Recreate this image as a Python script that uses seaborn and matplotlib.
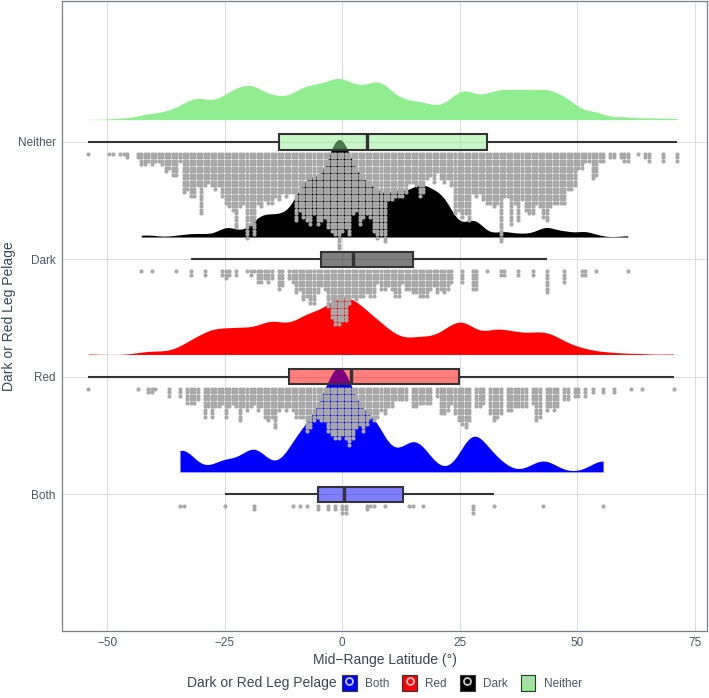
import numpy as np
import pandas as pd
import matplotlib
matplotlib.use("Agg")
import matplotlib.pyplot as plt
import matplotlib.colors as mcolors
import seaborn as sns
from seaborn._statistics import KDE
from matplotlib.patches import Patch
from matplotlib.lines import Line2D
from matplotlib.legend_handler import HandlerTuple

# ---------------- data ----------------
groups = ["Neither", "Dark", "Red", "Both"]          # top to bottom
legend_order = ["Both", "Red", "Dark", "Neither"]
BIN = 0.75

# Neither: dot-stack counts per 0.75 bin starting at -54
neither_start = -54.0
neither_counts = [
    1, 0, 0, 0, 0, 0, 1, 1, 0, 1,
    1, 2, 0, 0, 2, 4, 4, 3, 4, 3,
    3, 4, 6, 5, 7, 7, 3, 12, 11, 13,
    13, 10, 18, 10, 9, 10, 11, 10, 13, 15,
    16, 17, 22, 16, 15, 25, 21, 24, 15, 16,
    14, 15, 15, 13, 14, 12, 13, 12, 12, 20,
    17, 19, 20, 21, 18, 21, 20, 19, 22, 23,
    24, 28, 23, 22, 24, 18, 17, 21, 19, 18,
    19, 23, 25, 24, 26, 14, 14, 13, 13, 13,
    12, 9, 9, 10, 13, 12, 8, 7, 9, 6,
    8, 9, 8, 10, 18, 17, 19, 18, 20, 12,
    13, 12, 14, 15, 15, 16, 15, 26, 13, 13,
    21, 15, 20, 14, 17, 18, 18, 15, 16, 19,
    20, 16, 15, 15, 15, 15, 11, 11, 10, 5,
    5, 3, 3, 8, 7, 3, 3, 0, 2, 2,
    0, 2, 3, 3, 0, 0, 1, 0, 2, 3,
    0, 0, 0, 3, 0, 0, 0, 3,
]

dark_bins = [
    (-42.75, 1), (-40.5, 1), (-35.25, 1), (-32.25, 2), (-29.25, 2), (-25.5, 2),
    (-24.75, 3), (-24.0, 2), (-22.5, 2), (-20.25, 1), (-19.5, 2), (-18.75, 1),
    (-18.0, 4), (-17.25, 4), (-16.5, 3), (-15.75, 4), (-15.0, 3), (-13.5, 6),
    (-12.75, 5), (-11.25, 3), (-10.5, 4), (-9.75, 7), (-9.0, 6), (-8.25, 9),
    (-7.5, 8), (-6.75, 10), (-6.0, 10), (-5.25, 7), (-4.5, 5), (-3.75, 6),
    (-3.0, 11), (-2.25, 14), (-1.5, 16), (-0.75, 16), (0.0, 15), (0.75, 15),
    (1.5, 10), (2.25, 8), (3.0, 9), (3.75, 8), (4.5, 8), (5.25, 7), (6.0, 8),
    (6.75, 8), (7.5, 4), (8.25, 6), (9.0, 6), (9.75, 5), (10.5, 6), (11.25, 8),
    (12.0, 8), (12.75, 4), (13.5, 6), (14.25, 6), (15.0, 7), (15.75, 7),
    (16.5, 8), (17.25, 8), (18.0, 8), (18.75, 6), (19.5, 5), (20.25, 7),
    (21.0, 6), (21.75, 7), (22.5, 6), (23.25, 4), (25.5, 4), (27.75, 6),
    (28.5, 6), (30.75, 1), (33.75, 2), (34.5, 2), (37.5, 2), (40.5, 2),
    (43.5, 7), (47.25, 4), (51.0, 2), (51.75, 2), (54.0, 1), (60.75, 1),
]

red_bins = [
    (-54.0, 1), (-43.5, 1), (-41.25, 2), (-40.5, 2), (-39.75, 1), (-36.75, 3),
    (-34.5, 3), (-33.0, 5), (-32.25, 5), (-31.5, 5), (-30.75, 4), (-29.25, 9),
    (-28.5, 6), (-27.75, 9), (-27.0, 6), (-26.25, 6), (-25.5, 5), (-24.75, 9),
    (-24.0, 6), (-23.25, 5), (-22.5, 6), (-21.75, 10), (-21.0, 6), (-20.25, 7),
    (-19.5, 6), (-18.75, 5), (-18.0, 7), (-17.25, 6), (-16.5, 9), (-15.75, 10),
    (-15.0, 9), (-14.25, 12), (-13.5, 7), (-12.75, 6), (-12.0, 7), (-11.25, 6),
    (-10.5, 7), (-9.75, 9), (-9.0, 9), (-8.25, 9), (-7.5, 13), (-6.75, 12),
    (-6.0, 10), (-5.25, 9), (-4.5, 10), (-3.75, 10), (-3.0, 13), (-2.25, 14),
    (-1.5, 15), (-0.75, 15), (0.0, 14), (0.75, 15), (1.5, 17), (2.25, 15),
    (3.0, 12), (3.75, 11), (4.5, 13), (5.25, 11), (6.0, 9), (6.75, 10),
    (7.5, 9), (8.25, 7), (9.0, 8), (9.75, 6), (10.5, 6), (11.25, 4), (12.0, 4),
    (12.75, 4), (13.5, 4), (15.0, 6), (15.75, 6), (16.5, 5), (17.25, 5),
    (18.0, 5), (18.75, 5), (20.25, 3), (21.0, 8), (21.75, 8), (22.5, 7),
    (23.25, 5), (24.0, 8), (24.75, 10), (25.5, 11), (26.25, 12), (27.0, 10),
    (28.5, 6), (29.25, 6), (30.0, 5), (31.5, 8), (32.25, 10), (33.0, 9),
    (33.75, 8), (35.25, 7), (36.0, 7), (36.75, 6), (37.5, 6), (38.25, 6),
    (39.0, 6), (40.5, 5), (41.25, 10), (42.0, 9), (43.5, 7), (44.25, 6),
    (45.0, 7), (45.75, 6), (47.25, 4), (48.0, 4), (49.5, 3), (50.25, 3),
    (51.75, 3), (53.25, 2), (55.5, 2), (57.75, 2), (61.5, 1), (63.75, 1),
    (70.5, 1),
]

both_bins = [
    (-34.5, 1), (-33.75, 1), (-25.0, 1), (-18.75, 2), (-10.5, 1), (-9.0, 1),
    (-7.5, 1), (-5.25, 2), (-3.0, 2), (-1.5, 2), (0.0, 3), (0.75, 3),
    (5.25, 2), (6.0, 1), (6.75, 1), (9.0, 1), (14.25, 1), (15.0, 1),
    (17.25, 1), (27.75, 3), (32.25, 1), (42.75, 1), (55.5, 1),
]

group_colors = {"Neither": "#90EE90", "Dark": "#000000", "Red": "#FF0000", "Both": "#0000FF"}
bw_adjust = {"Neither": 0.33, "Dark": 0.4, "Red": 0.4, "Both": 0.28}

# ---------------- build tidy data ----------------
neither_x = neither_start + BIN * np.arange(len(neither_counts))
bins = {
    "Neither": list(zip(neither_x, neither_counts)),
    "Dark": dark_bins,
    "Red": red_bins,
    "Both": both_bins,
}
rows = []
for g in groups:
    for x, n in bins[g]:
        rows += [(g, float(x))] * int(n)
df = pd.DataFrame(rows, columns=["group", "lat"])

# ---------------- figure ----------------
W, H = 709, 698
fig = plt.figure(figsize=(W / 100, H / 100), dpi=100)
sns.set_style("white")
plt.rcParams["font.family"] = ["Liberation Sans", "DejaVu Sans"]

ax = fig.add_axes([62 / W, (H - 631) / H, (707 - 62) / W, 630 / H])
ax.set_axisbelow(True)

text_col = "#3b4652"
tick_col = "#4b5563"

# densities (half-eye, one common height scale for all groups)
dens = {}
for g in groups:
    vals = df.loc[df.group == g, "lat"].to_numpy()
    kde = KDE(bw_adjust=bw_adjust[g], cut=0, gridsize=800)
    d, s = kde(vals)
    dens[g] = (d, s)
peak = max(d.max() for d, s in dens.values())
scale = 0.89 / peak
for i, g in enumerate(groups):
    d, s = dens[g]
    base = i - 0.19
    ax.fill_between(s, base, base - d * scale, color=group_colors[g],
                    linewidth=0, zorder=2)

# boxplots (semi-transparent fill over the densities)
sns.boxplot(data=df, x="lat", y="group", order=groups, orient="h",
            width=0.13, whis=1.5, showfliers=False, showcaps=False,
            palette=group_colors, hue="group", hue_order=groups, legend=False,
            saturation=1, linewidth=1.5, linecolor="#333333",
            medianprops=dict(color="#333333", linewidth=2.4),
            ax=ax)
for p in ax.patches:
    yc = p.get_path().vertices[:, 1].mean()
    try:
        yc = p.get_patch_transform().transform(p.get_path().vertices)[:, 1].mean()
    except Exception:
        pass
    gi = int(np.clip(round(yc), 0, len(groups) - 1))
    p.set_facecolor(mcolors.to_rgba(group_colors[groups[gi]], 0.5))
    p.set_zorder(3)
for l in ax.lines:
    l.set_zorder(3)

# dot stacks
pitch = 0.0298
for i, g in enumerate(groups):
    xs, ys = [], []
    for x, n in bins[g]:
        for j in range(int(n)):
            xs.append(x)
            ys.append(i + 0.10 + j * pitch)
    ax.scatter(xs, ys, s=9, color="#A8A8A8", linewidths=0, zorder=4)

# axes styling
ax.set_xlim(-59.6, 77.6)
ax.set_ylim(4.165, -1.2)
ax.set_xticks([-50, -25, 0, 25, 50, 75])
ax.set_yticks(range(len(groups)))
ax.set_yticklabels(groups)
ax.grid(True, color="#dcdcdc", linewidth=0.8)
for sp in ax.spines.values():
    sp.set_color("#7a7f87")
    sp.set_linewidth(0.9)
ax.tick_params(axis="both", length=2.5, width=0.7, color="#9a9a9a",
               labelsize=8.5, labelcolor=tick_col, pad=2)
ax.set_xlabel("Mid\u2212Range Latitude (\u00b0)", fontsize=10, color=text_col, labelpad=3)
ax.set_ylabel("Dark or Red Leg Pelage", fontsize=10, color=text_col, labelpad=1)

# legend at the bottom
handles = []
for g in legend_order:
    sq = Patch(facecolor=group_colors[g], edgecolor="#333333", linewidth=0.8)
    dot = Line2D([], [], marker="o", markersize=5, markerfacecolor="none",
                 markeredgecolor="#c8c8c8", markeredgewidth=1.3, linestyle="none")
    handles.append((sq, dot))
fig.text(337 / W, 1 - 683 / H, "Dark or Red Leg Pelage", ha="right", va="center",
         fontsize=10, color=text_col)
fig.legend(handles, legend_order, handler_map={tuple: HandlerTuple(ndivide=1, pad=0)},
           loc="center left", bbox_to_anchor=(342 / W, 1 - 683 / H), ncol=4,
           frameon=False, fontsize=8.5, labelcolor=tick_col, handlelength=1.25,
           handleheight=1.6, handletextpad=0.7, columnspacing=1.1,
           borderaxespad=0, borderpad=0)

fig.savefig("out.png", dpi=100)
